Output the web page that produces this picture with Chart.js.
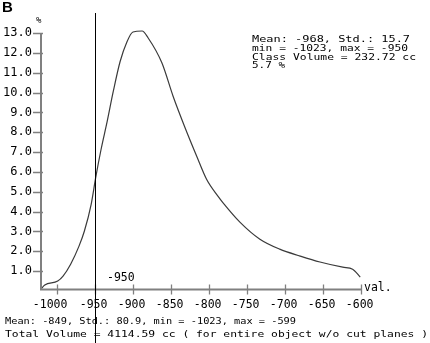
<!DOCTYPE html>
<html>
<head>
<meta charset="utf-8">
<script src="https://cdn.jsdelivr.net/npm/chart.js@4.4.1/dist/chart.umd.min.js"></script>
<style>
  html, body { margin: 0; padding: 0; background: #fff; }
  #wrap { width: 430px; height: 343px; }
</style>
</head>
<body>
<div id="wrap"><canvas id="histo"></canvas></div>
<script>
// density curve
var valX = [-1021, -1016, -999, -992, -982, -971, -964, -955, -949, -942, -934, -926, -917, -908, -900,
            -888, -880, -862, -847, -832, -816, -803, -788, -782, -759, -733, -707, -680, -654, -624, -611, -601];
var pctY = [0.1, 0.3, 0.5, 0.75, 1.35, 2.26, 3.01, 4.37, 5.72, 7.13, 8.53, 10.04, 11.55, 12.55, 13.05,
            13.1, 12.75, 11.5, 9.79, 8.28, 6.78, 5.62, 4.77, 4.47, 3.46, 2.61, 2.11, 1.76, 1.46, 1.2, 1.1, 0.7];
var xTicks = [-1000, -950, -900, -850, -800, -750, -700, -650, -600];
var yTicks = [1, 2, 3, 4, 5, 6, 7, 8, 9, 10, 11, 12, 13];
var cutValue = -950;
var classStats = ['Mean: -968, Std.: 15.7', 'min = -1023, max = -950', 'Class Volume = 232.72 cc', '5.7 %'];
var totalStats = ['Mean: -849, Std.: 80.9, min = -1023, max = -599',
                  'Total Volume = 4114.59 cc ( for entire object w/o cut planes )'];

var pts = valX.map(function(v, i) { return { x: v, y: pctY[i] }; });

// draw text squeezed/stretched to a given width
function fitText(ctx, txt, x, y, w, font) {
    ctx.save();
    ctx.font = font;
    var m = ctx.measureText(txt).width;
    ctx.translate(x, y);
    ctx.scale(w / m, 1);
    ctx.textAlign = 'left';
    ctx.textBaseline = 'middle';
    ctx.fillText(txt, 0, 0);
    ctx.restore();
}

var decor = {
    id: 'decor',
    afterDraw: function(chart) {
        var ctx = chart.ctx, xs = chart.scales.x, ys = chart.scales.y;
        var a = chart.chartArea;
        var axisY = 289.5;
        ctx.save();
        // axes
        ctx.strokeStyle = '#808080';
        ctx.lineWidth = 2;
        ctx.beginPath();
        ctx.moveTo(a.left, ys.getPixelForValue(13));
        ctx.lineTo(a.left, axisY + 1);
        ctx.moveTo(a.left - 1, axisY);
        ctx.lineTo(xs.getPixelForValue(-600), axisY);
        ctx.stroke();
        ctx.lineWidth = 1.3;
        ctx.beginPath();
        ys.ticks.forEach(function(t) {
            var py = Math.round(ys.getPixelForValue(t.value)) + 0.5;
            ctx.moveTo(a.left - 8, py);
            ctx.lineTo(a.left + 2, py);
        });
        xs.ticks.forEach(function(t) {
            var px = Math.round(xs.getPixelForValue(t.value)) + 0.5;
            ctx.moveTo(px, axisY - 5);
            ctx.lineTo(px, axisY + 5);
        });
        ctx.stroke();

        // tick labels
        ctx.fillStyle = '#000';
        ctx.textBaseline = 'middle';
        ctx.font = '12px "DejaVu Sans Mono"';
        ctx.textAlign = 'right';
        ys.ticks.forEach(function(t) {
            ctx.fillText(t.value.toFixed(1), 32, ys.getPixelForValue(t.value));
        });
        ctx.font = '11.5px "DejaVu Sans Mono"';
        xs.ticks.forEach(function(t) {
            var off = t.value <= -1000 ? 10.5 : 12.5;
            ctx.fillText(String(t.value), xs.getPixelForValue(t.value) + off, 305);
        });
        ctx.textAlign = 'left';
        ctx.fillText('val.', 364, 288);
        ctx.fillText('-950', 107, 278);
        ctx.font = '9px "DejaVu Sans Mono"';
        ctx.fillText('%', 36, 21);
        ctx.font = 'bold 15px "Liberation Sans"';
        ctx.fillText('B', 2, 8);

        // cut line
        var cx = Math.round(xs.getPixelForValue(cutValue)) + 0.5;
        ctx.strokeStyle = '#000';
        ctx.lineWidth = 1;
        ctx.beginPath();
        ctx.moveTo(cx, 13);
        ctx.lineTo(cx, 343);
        ctx.stroke();

        // statistics text
        var f = '9.5px "DejaVu Sans Mono"';
        var wTop = [158, 156, 164, 33], yTop = [40, 49, 57.3, 65.7];
        classStats.forEach(function(s, i) { fitText(ctx, s, 252, yTop[i], wTop[i], f); });
        fitText(ctx, totalStats[0], 5, 322, 291, f);
        fitText(ctx, totalStats[1], 5, 334.5, 423, f);
        ctx.restore();
    }
};

var ctx = document.getElementById('histo').getContext('2d');
window.histoChart = new Chart(ctx, {
    type: 'line',
    data: {
        datasets: [{
            data: pts,
            borderColor: '#3a3a3a',
            borderWidth: 1.2,
            pointRadius: 0,
            cubicInterpolationMode: 'monotone',
            clip: false,
            fill: false
        }]
    },
    options: {
        responsive: true,
        maintainAspectRatio: false,
        animation: false,
        events: [],
        layout: { padding: { left: 0, right: 69, top: 33, bottom: 0 } },
        plugins: { legend: { display: false }, tooltip: { enabled: false } },
        scales: {
            x: {
                type: 'linear',
                min: -1021,
                max: -600,
                ticks: { display: false },
                grid: { display: false },
                border: { display: false },
                afterBuildTicks: function(s) {
                    s.ticks = xTicks.map(function(v) { return { value: v }; });
                },
                afterFit: function(s) { s.height = 52; }
            },
            y: {
                min: 0,
                max: 13,
                ticks: { display: false },
                grid: { display: false },
                border: { display: false },
                afterBuildTicks: function(s) {
                    s.ticks = yTicks.map(function(v) { return { value: v }; });
                },
                afterFit: function(s) { s.width = 41; }
            }
        }
    },
    plugins: [decor]
});
</script>
</body>
</html>
